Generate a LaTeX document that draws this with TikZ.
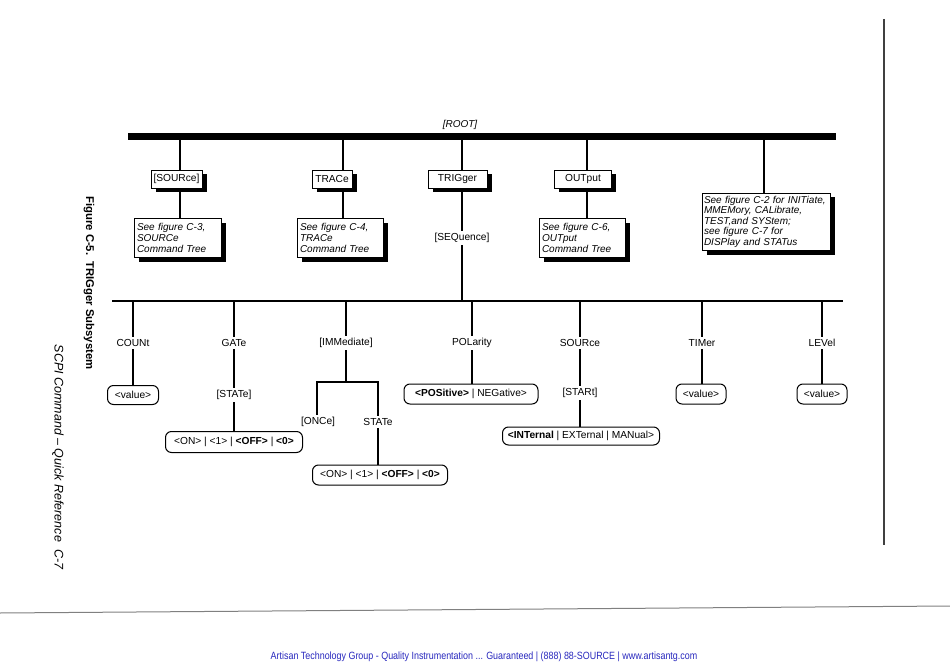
\documentclass[tikz,border=0pt]{standalone}
\usepackage{fontspec}
\setmainfont{Liberation Sans}
\newfontfamily\narrowfont[FakeStretch=0.85]{Liberation Sans}
\usetikzlibrary{shadows}
\definecolor{footblue}{RGB}{40,40,190}
\begin{document}
\begin{tikzpicture}[x=1pt,y=-1pt,
  every node/.style={font=\fontsize{10.2}{11}\selectfont, inner sep=0pt},
  conn/.style={line width=2.4pt},
  cmdbox/.style={draw, line width=0.9pt, fill=white, minimum height=18pt,
    drop shadow={shadow xshift=4.5pt, shadow yshift=-4.5pt, fill=black, opacity=1}},
  notebox/.style={cmdbox, align=left, inner xsep=3pt, font=\fontsize{10}{11}\selectfont\itshape},
  valbox/.style={draw, line width=1pt, rounded corners=6pt, minimum height=19pt, fill=white},
  lab/.style={inner sep=2.5pt}]
\fill[white] (0,0) rectangle (950,671);
\useasboundingbox (0,0) rectangle (950,671);

% ROOT bar
\node[font=\fontsize{10}{11}\selectfont\itshape] (root) at (460,125) {[ROOT]};
\coordinate (rL) at (128,137);
\coordinate (rR) at (836,137);
\draw[line width=7pt] (rL) -- (rR);

% upper level
\node[cmdbox, minimum width=51pt] (src) at (176.5,179) {[SOURce]};
\node[cmdbox, minimum width=40pt] (trc) at (332,179) {TRACe};
\node[cmdbox, minimum width=59pt] (trg) at (457.5,179) {TRIGger};
\node[cmdbox, minimum width=57pt] (out) at (583,179) {OUTput};

\node[notebox, minimum height=39pt, text width=81pt] (c3) at (177.5,237.5) {See figure C-3,\\SOURCe\\Command Tree};
\node[notebox, minimum height=39pt, text width=80pt] (c4) at (340,237.5) {See figure C-4,\\TRACe\\Command Tree};
\node[notebox, minimum height=39pt, text width=80pt] (c6) at (582,237.5) {See figure C-6,\\OUTput\\Command Tree};
\node[notebox, minimum height=57pt, inner xsep=2pt, text width=124pt, font=\fontsize{10}{10.5}\selectfont\itshape] (c2) at (766,221.5)
  {See figure C-2 for INITiate,\\MMEMory, CALibrate,\\TEST,and SYStem;\\see figure C-7 for\\DISPlay and STATus};

\node[lab] (seq) at (462,238) {[SEQuence]};

\coordinate (d1) at (180,137);
\coordinate (d2) at (343,137);
\coordinate (d3) at (462,137);
\coordinate (d4) at (587,137);
\coordinate (d5) at (764,137);
\draw[conn] (d1) -- (d1 |- src.north);
\draw[conn] (d1 |- src.south) -- (d1 |- c3.north);
\draw[conn] (d2) -- (d2 |- trc.north);
\draw[conn] (d2 |- trc.south) -- (d2 |- c4.north);
\draw[conn] (d3) -- (d3 |- trg.north);
\draw[conn] (d3 |- trg.south) -- (d3 |- seq.north);
\draw[conn] (d4) -- (d4 |- out.north);
\draw[conn] (d4 |- out.south) -- (d4 |- c6.north);
\draw[conn] (d5) -- (d5 |- c2.north);

% lower bar
\coordinate (bL) at (112,301);
\coordinate (bR) at (843,301);
\draw[line width=2.4pt] (bL) -- (bR);
\draw[conn] (d3 |- seq.south) -- (d3 |- bL);

% lower labels
\node[lab] (count) at (133,343) {COUNt};
\node[lab] (gate) at (234,343) {GATe};
\node[lab] (imm) at (346,343) {[IMMediate]};
\node[lab] (pol) at (472,343) {POLarity};
\node[lab] (lsrc) at (580,343) {SOURce};
\node[lab] (timer) at (702,343) {TIMer};
\node[lab] (level) at (822,343) {LEVel};

\foreach \n in {count,gate,imm,pol,lsrc,timer,level}
  \draw[conn] (\n.north |- bL) -- (\n.north);

% COUNt
\node[valbox, minimum width=51pt] (cval) at (133,395) {<value>};
\draw[conn] (count.south) -- (cval.north);

% GATe
\node[lab] (gstate) at (234,395) {[STATe]};
\node[valbox, minimum width=137pt, minimum height=21pt] (gbool) at (234,442)
  {<ON> | <1> | \textbf{<OFF>} | \textbf{<0>}};
\draw[conn] (gate.south) -- (gstate.north);
\draw[conn] (gstate.south) -- (gbool.north);

% IMMediate
\coordinate (ibr) at (346,382);
\coordinate (iL) at (317,382);
\coordinate (iR) at (378,382);
\node[lab] (once) at (318,422) {[ONCe]};
\node[lab] (istate) at (378,422) {STATe};
\node[valbox, minimum width=135pt, minimum height=20pt] (ibool) at (380,475)
  {<ON> | <1> | \textbf{<OFF>} | \textbf{<0>}};
\draw[conn] (imm.south) -- (ibr);
\draw[line width=2.4pt, line cap=rect] (iL) -- (iR);
\draw[conn] (iL) -- (iL |- once.north);
\draw[conn] (iR) -- (iR |- istate.north);
\draw[conn] (istate.south) -- (istate.south |- ibool.north);

% POLarity
\node[valbox, minimum width=134pt, minimum height=20pt] (pval) at (471,394)
  {\textbf{<POSitive>} | NEGative>};
\draw[conn] (pol.south) -- (pol.south |- pval.north);

% SOURce
\node[lab] (start) at (580,393) {[STARt]};
\node[valbox, minimum width=157pt, minimum height=18pt] (sval) at (581,436)
  {\textbf{<INTernal} | EXTernal | MANual>};
\draw[conn] (lsrc.south) -- (start.north);
\draw[conn] (start.south) -- (start.south |- sval.north);

% TIMer, LEVel
\node[valbox, minimum width=50pt, minimum height=20pt] (tval) at (701,394) {<value>};
\draw[conn] (timer.south) -- (timer.south |- tval.north);
\node[valbox, minimum width=50pt, minimum height=20pt] (lval) at (822,394) {<value>};
\draw[conn] (level.south) -- (level.south |- lval.north);

% side texts
\node[rotate=-90, font=\fontsize{11.3}{12}\selectfont\bfseries] (title) at (89,283) {Figure C-5.\ \ TRIGger Subsystem};
\node[rotate=-90, font=\fontsize{12.5}{13}\selectfont\itshape] (scpi) at (58,457) {SCPI Command – Quick Reference\ \ C-7};

% page rules
\coordinate (vT) at (884,19);
\coordinate (vB) at (884,545);
\draw[line width=1.2pt, black!75] (vT) -- (vB);
\coordinate (hL) at (0,613);
\coordinate (hR) at (950,606);
\draw[line width=1pt, black!50] (hL) -- (hR);

% footer
\node[font=\narrowfont\fontsize{10.5}{12}\selectfont, text=footblue] (foot) at (484,657)
  {Artisan Technology Group - Quality Instrumentation ... Guaranteed | (888) 88-SOURCE | www.artisantg.com};
\end{tikzpicture}
\end{document}
